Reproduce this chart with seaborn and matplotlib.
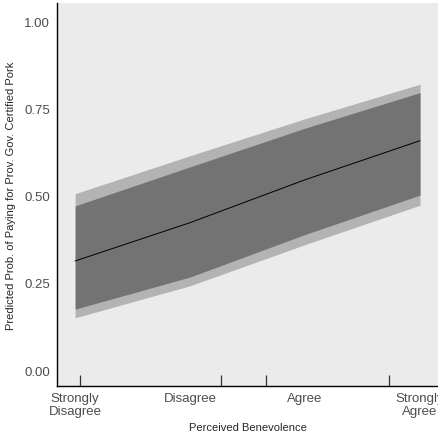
import pandas as pd
import seaborn as sns
import matplotlib.pyplot as plt
from matplotlib.ticker import FixedLocator, NullFormatter

# predicted probabilities with two confidence bands
benevolence = [1, 2, 3, 4]
pred = [0.313, 0.423, 0.546, 0.658]
inner_lo = [0.175, 0.267, 0.389, 0.502]
inner_hi = [0.471, 0.583, 0.694, 0.796]
outer_lo = [0.150, 0.242, 0.360, 0.473]
outer_hi = [0.506, 0.615, 0.721, 0.820]

tick_labels = ['Strongly\nDisagree', 'Disagree', 'Agree', 'Strongly\nAgree']
tick_marks = [1.043, 2.27, 2.66, 3.73]

df = pd.DataFrame({'x': benevolence, 'pred': pred})

sns.set_style("white", {"axes.facecolor": "#EBEBEB"})
plt.rcParams['font.family'] = ['Liberation Sans', 'DejaVu Sans']

fig = plt.figure(figsize=(4.39, 4.35), dpi=100)
ax = fig.add_axes([0.130, 0.110, 0.870, 0.880])

ax.fill_between(benevolence, outer_lo, outer_hi, color='#B3B3B3', linewidth=0)
ax.fill_between(benevolence, inner_lo, inner_hi, color='#737373', linewidth=0)
sns.lineplot(x='x', y='pred', data=df, color='black', linewidth=0.7, ax=ax)

ax.set_xlim(0.843, 4.165)
ax.set_ylim(-0.046, 1.052)

ax.set_yticks([0, 0.25, 0.5, 0.75, 1.0])
ax.set_yticklabels(['0.00', '0.25', '0.50', '0.75', '1.00'], fontsize=9.5, color='#4D4D4D')
ax.tick_params(axis='y', length=0, pad=5)

ax.set_xticks(benevolence)
ax.set_xticklabels(tick_labels, fontsize=9.5, color='#4D4D4D', linespacing=1.1)
ax.tick_params(axis='x', which='major', length=0, pad=4)
ax.xaxis.set_minor_locator(FixedLocator(tick_marks))
ax.xaxis.set_minor_formatter(NullFormatter())
ax.tick_params(axis='x', which='minor', bottom=True, direction='in', length=8, width=0.9, color='#333333')

ax.set_xlabel('Perceived Benevolence', fontsize=8, labelpad=4)
ax.set_ylabel('Predicted Prob. of Paying for Prov. Gov. Certified Pork', fontsize=8, labelpad=6)

for side in ['top', 'right']:
    ax.spines[side].set_visible(False)
for side in ['left', 'bottom']:
    ax.spines[side].set_color('black')
    ax.spines[side].set_linewidth(1.0)

plt.savefig('out.png', dpi=100)
